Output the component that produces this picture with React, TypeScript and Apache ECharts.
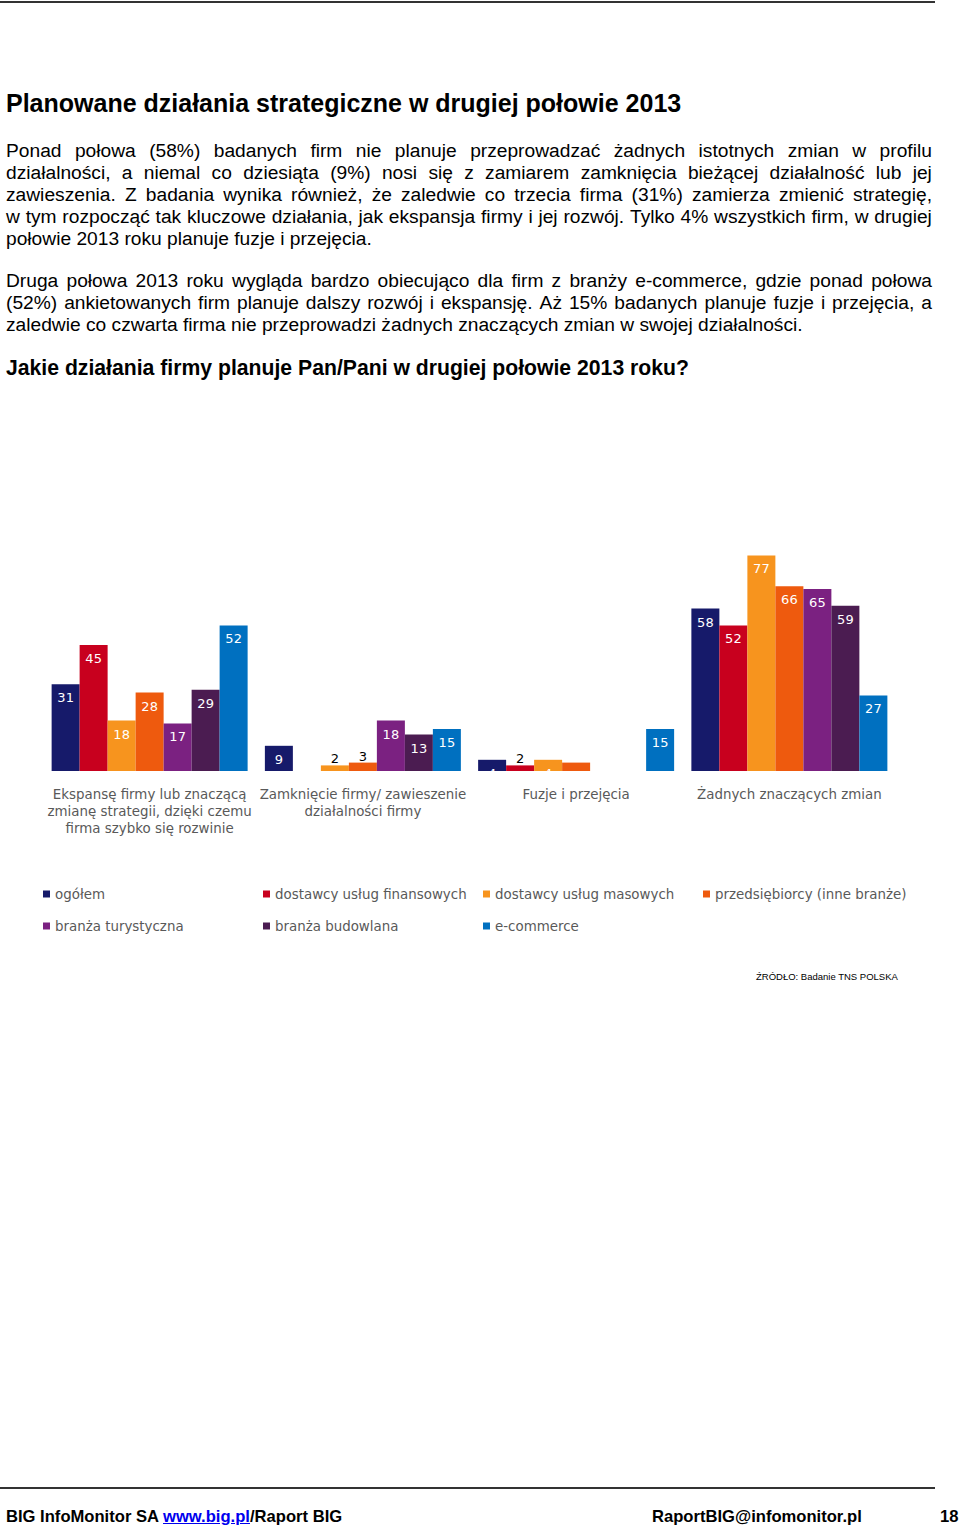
import React, { useEffect, useRef } from "react";
import * as echarts from "echarts";

// ---------- data ----------
const categories = [
  "Ekspansę firmy lub znaczącą\nzmianę strategii, dzięki czemu\nfirma szybko się rozwinie",
  "Zamknięcie firmy/ zawieszenie\ndziałalności firmy",
  "Fuzje i przejęcia",
  "Żadnych znaczących zmian",
];
const seriesNames = [
  "ogółem",
  "dostawcy usług finansowych",
  "dostawcy usług masowych",
  "przedsiębiorcy (inne branże)",
  "branża turystyczna",
  "branża budowlana",
  "e-commerce",
];
const ogolem = [31, 9, 4, 58];
const finansowe = [45, null, 2, 52];
const masowe = [18, 2, 4, 77];
const przedsiebiorcy = [28, 3, 3, 66];
const turystyczna = [17, 18, null, 65];
const budowlana = [29, 13, null, 59];
const ecommerce = [52, 15, 15, 27];
const seriesValues = [ogolem, finansowe, masowe, przedsiebiorcy, turystyczna, budowlana, ecommerce];
const seriesColors = ["#161A6A", "#C8001E", "#F7941E", "#EE5A0E", "#7B2181", "#4B1C51", "#0070C0"];
// [seriesIndex, dataIndex] of labels drawn above the bar in black
const outsideLabels = [
  [1, 2],
  [2, 1],
  [3, 1],
];

const para1 = [
  "Ponad połowa (58%) badanych firm nie planuje przeprowadzać żadnych istotnych zmian w profilu",
  "działalności, a niemal co dziesiąta (9%) nosi się z zamiarem zamknięcia bieżącej działalność lub jej",
  "zawieszenia. Z badania wynika również, że zaledwie co trzecia firma (31%) zamierza zmienić strategię,",
  "w tym rozpocząć tak kluczowe działania, jak ekspansja firmy i jej rozwój. Tylko 4% wszystkich firm, w drugiej",
  "połowie 2013 roku planuje fuzje i przejęcia.",
];
const para2 = [
  "Druga połowa 2013 roku wygląda bardzo obiecująco dla firm z branży e-commerce, gdzie ponad połowa",
  "(52%) ankietowanych firm planuje dalszy rozwój i ekspansję. Aż 15% badanych planuje fuzje i przejęcia, a",
  "zaledwie co czwarta firma nie przeprowadzi żadnych znaczących zmian w swojej działalności.",
];

const BODY_FONT = '"Liberation Sans", Arial, sans-serif';
const CHART_FONT = '"DejaVu Sans", Verdana, sans-serif';

function Line({ text, top, justify }: { text: string; top: number; justify: boolean }) {
  const words = text.split(" ");
  return (
    <div
      style={{
        position: "absolute",
        left: 6,
        top,
        width: 926,
        height: 22,
        lineHeight: "22px",
        fontSize: 19.2,
        fontFamily: BODY_FONT,
        color: "#000",
        whiteSpace: "nowrap",
        display: justify ? "flex" : "block",
        justifyContent: "space-between",
      }}
    >
      {justify ? words.map((w, i) => <span key={i}>{w}</span>) : text}
    </div>
  );
}

function Chart() {
  const ref = useRef<HTMLDivElement>(null);
  useEffect(() => {
    if (!ref.current) return;
    const chart = echarts.init(ref.current, undefined, { renderer: "svg" });
    const series = seriesNames.map((name, si) => ({
      name,
      type: "bar",
      barWidth: 28,
      barGap: "0%",
      itemStyle: { color: seriesColors[si] },
      label: {
        show: true,
        position: "insideTop",
        distance: 7,
        color: "#fff",
        fontSize: 13,
        fontFamily: CHART_FONT,
      },
      data: seriesValues[si].map((v, di) => {
        const out = outsideLabels.some((p) => p[0] === si && p[1] === di);
        if (v === null) return { value: null, label: { show: false } };
        return out
          ? { value: v, label: { position: "top", distance: 0, color: "#000" } }
          : { value: v };
      }),
    }));
    const legends = seriesNames.map((name, i) => ({
      data: [name],
      left: 43 + (i % 4) * 220,
      top: i < 4 ? 356 : 388,
      padding: 0,
      itemWidth: 7,
      itemHeight: 7,
      icon: "rect",
      textStyle: { fontSize: 13.4, lineHeight: 16, color: "#595959", fontFamily: CHART_FONT },
    }));
    chart.setOption({
      animation: false,
      grid: { left: 43, width: 853, top: 17, height: 224 },
      legend: legends,
      xAxis: {
        type: "category",
        data: categories,
        axisLine: { show: false },
        axisTick: { show: false },
        axisLabel: {
          interval: 0,
          margin: 15,
          fontSize: 13.4,
          lineHeight: 17,
          color: "#595959",
          fontFamily: CHART_FONT,
        },
      },
      yAxis: {
        type: "value",
        min: 0,
        max: 80,
        show: false,
      },
      graphic: [
        {
          type: "text",
          right: 62,
          top: 441,
          style: {
            text: "ŹRÓDŁO: Badanie TNS POLSKA",
            fontSize: 9.5,
            fontFamily: BODY_FONT,
            fill: "#000",
          },
        },
      ],
      series,
    });
    return () => chart.dispose();
  }, []);
  return (
    <div
      ref={ref}
      style={{ position: "absolute", left: 0, top: 530, width: 960, height: 470 }}
    />
  );
}

const footerStyle: React.CSSProperties = {
  position: "absolute",
  top: 1507,
  fontSize: 16.6,
  lineHeight: "20px",
  fontWeight: "bold",
  fontFamily: BODY_FONT,
  color: "#000",
  whiteSpace: "nowrap",
};

export default function App() {
  return (
    <div
      style={{
        position: "absolute",
        left: 0,
        top: 0,
        width: 960,
        height: 1533,
        background: "#fff",
        overflow: "hidden",
      }}
    >
      <div style={{ position: "absolute", left: 0, top: 1, width: 935, height: 2, background: "#333" }} />
      <div
        style={{
          position: "absolute",
          left: 6,
          top: 88,
          fontSize: 25,
          lineHeight: "30px",
          fontWeight: "bold",
          fontFamily: BODY_FONT,
          color: "#000",
          whiteSpace: "nowrap",
        }}
      >
        Planowane działania strategiczne w drugiej połowie 2013
      </div>
      {para1.map((t, i) => (
        <Line key={"a" + i} text={t} top={140 + i * 22} justify={i < para1.length - 1} />
      ))}
      {para2.map((t, i) => (
        <Line key={"b" + i} text={t} top={270 + i * 22} justify={i < para2.length - 1} />
      ))}
      <div
        style={{
          position: "absolute",
          left: 6,
          top: 356,
          fontSize: 21.2,
          lineHeight: "24px",
          fontWeight: "bold",
          fontFamily: BODY_FONT,
          color: "#000",
          whiteSpace: "nowrap",
        }}
      >
        Jakie działania firmy planuje Pan/Pani w drugiej połowie 2013 roku?
      </div>
      <Chart />
      <div style={{ position: "absolute", left: 0, top: 1487, width: 935, height: 2, background: "#333" }} />
      <div style={{ ...footerStyle, left: 6 }}>
        BIG InfoMonitor SA{" "}
        <span style={{ color: "#0000EE", textDecoration: "underline" }}>www.big.pl</span>/Raport BIG
      </div>
      <div style={{ ...footerStyle, left: 652 }}>RaportBIG@infomonitor.pl</div>
      <div style={{ ...footerStyle, left: 940 }}>18</div>
    </div>
  );
}
